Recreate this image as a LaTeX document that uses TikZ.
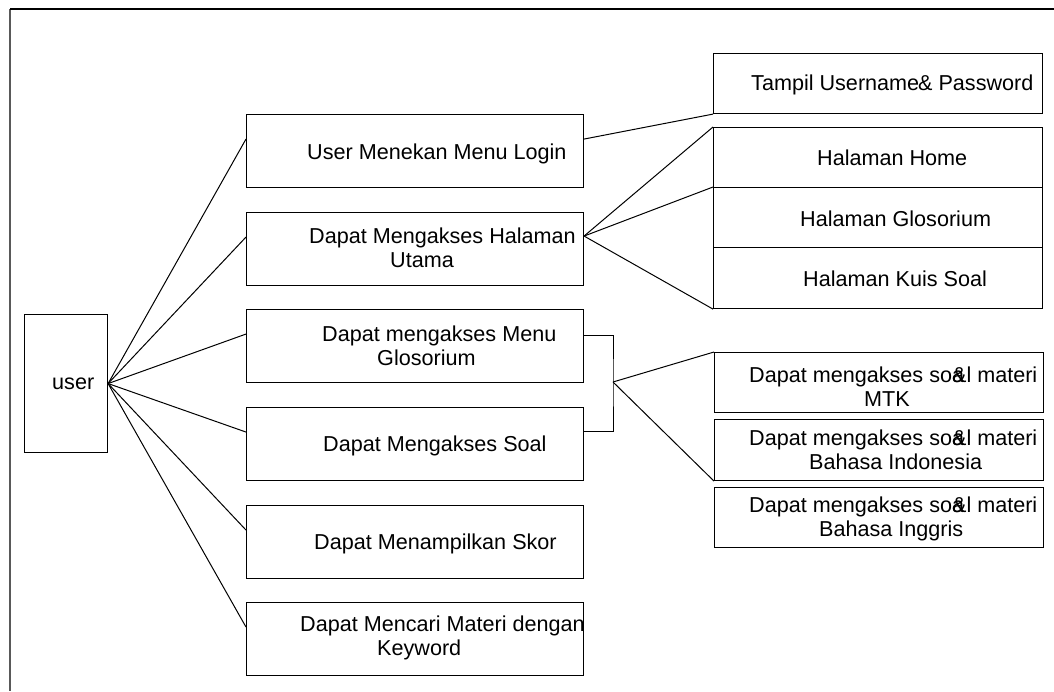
\documentclass[tikz,border=0pt]{standalone}
\usepackage{fontspec}
\setmainfont{Liberation Sans}
% two text lines, the second one indented by #1; the node's baseline is the first line's
\newcommand\twoline[3]{\vtop{\baselineskip=24pt\hbox{#2}\hbox{\kern#1#3}}}
\newcommand\soal{Dapat mengakses so\rlap{a}\&l materi}
\begin{document}
\begin{tikzpicture}[x=1pt,y=-1pt,
  box/.style={draw, line width=1.1pt, anchor=north west, inner sep=0pt},
  midbox/.style={box, minimum width=337pt, minimum height=73pt},
  rbox/.style={box, minimum width=329pt, minimum height=60pt},
  txt/.style={anchor=base west, inner sep=0pt, font=\fontsize{21.6pt}{24pt}\selectfont},
  link/.style={line width=1pt}]
\useasboundingbox (0,0) rectangle (1054,691);

% frame
\draw[line width=2pt, black!65] (10,9) -- (10,691);
\draw[line width=1.2pt] (10,9) -- (1054,9);

% actor
\node[box, minimum width=83pt, minimum height=138pt] (u) at (24,314) {};
\node[txt] (tu) at (52,389) {user};

% activities
\node[midbox] (b1) at (246,114) {};
\node[midbox] (b2) at (246,212) {};
\node[midbox] (b3) at (246,309) {};
\node[midbox] (b4) at (246,407) {};
\node[midbox] (b5) at (246,505) {};
\node[midbox] (b6) at (246,602) {};
\node[txt] (tb1) at (307,159) {User Menekan Menu Login};
\node[txt] (tb2) at (309,243) {\twoline{81pt}{Dapat Mengakses Halaman}{Utama}};
\node[txt] (tb3) at (322,341) {\twoline{55pt}{Dapat mengakses Menu}{Glosorium}};
\node[txt] (tb4) at (323,451) {Dapat Mengakses Soal};
\node[txt] (tb5) at (314,549) {Dapat Menampilkan Skor};
\node[txt] (tb6) at (300,631) {\twoline{77pt}{Dapat Mencari Materi dengan}{Keyword}};

% results
\node[rbox] (t)  at (713,53)  {};
\node[rbox] (h1) at (713,127) {};
\node[rbox] (h2) at (713,187) {};
\node[rbox, minimum height=61pt] (h3) at (713,247) {};
\node[rbox] (m1) at (714,352) {};
\node[rbox, minimum height=61pt] (m2) at (714,419) {};
\node[rbox] (m3) at (714,487) {};
\node[txt] (tt)  at (751,90)  {Tampil Username\kern-0.05em\& Password};
\node[txt] (th1) at (817,165) {Halaman Home};
\node[txt] (th2) at (800,226) {Halaman Glosorium};
\node[txt] (th3) at (803,286) {Halaman Kuis Soal};
\node[txt] (tm1) at (749,382) {\twoline{115pt}{\soal}{MTK}};
\node[txt] (tm2) at (749,445) {\twoline{60pt}{\soal}{Bahasa Indonesia}};
\node[txt] (tm3) at (749,512) {\twoline{70pt}{\soal}{Bahasa Inggris}};

% user to activities
\foreach \b in {b1,b2,b3,b4,b5,b6}
  \draw[link] (u.east) -- ([yshift=12pt]\b.west);

% login and main page
\draw[link] ([yshift=12pt]b1.east) -- (t.south west);
\draw[link] ([yshift=13pt]b2.east) -- (h1.north west);
\draw[link] ([yshift=13pt]b2.east) -- (h2.north west);
\draw[link] ([yshift=13pt]b2.east) -- (h3.south west);

% glossary / questions bracket
\coordinate (br) at (613,382);
\draw[link] ([yshift=11pt]b3.east) -| (br) |- ([yshift=13pt]b4.east);
\draw[link] (br) -- (m1.north west);
\draw[link] (br) -- (m2.south west);
\end{tikzpicture}
\end{document}
